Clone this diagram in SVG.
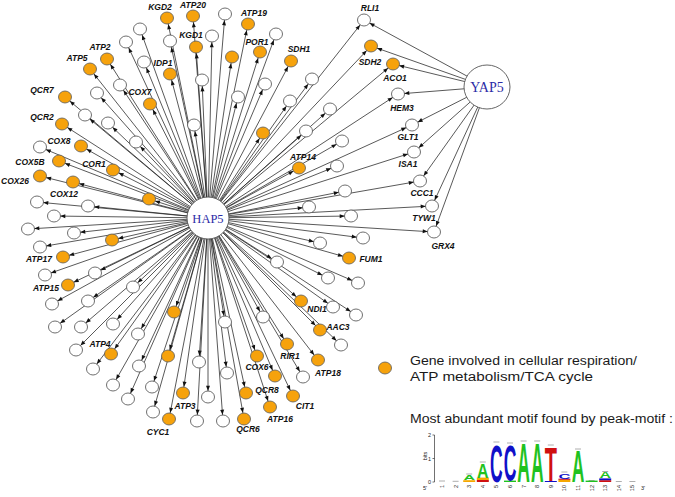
<svg xmlns="http://www.w3.org/2000/svg" width="675" height="497" viewBox="0 0 675 497">
<defs>
<marker id="ah" markerUnits="userSpaceOnUse" markerWidth="6" markerHeight="4" refX="11.3" refY="2" orient="auto" overflow="visible">
<path d="M0,0 L5,2 L0,4 z" fill="#111"/>
</marker>
</defs>
<style>
.e line{stroke:#222;stroke-width:0.75;fill:none;marker-end:url(#ah)}
.o{fill:#F6A20C;stroke:#5a5a5a;stroke-width:0.8}
.w{fill:#fff;stroke:#4a4a4a;stroke-width:0.8}
.l{font-family:"Liberation Sans",Arial,sans-serif;font-size:8.5px;font-weight:bold;font-style:italic;fill:#111;text-anchor:middle}
.hub{fill:#fff;stroke:#555;stroke-width:0.9}
.ht{font-family:"Liberation Serif","Times New Roman",serif;fill:#2b2ba6;text-anchor:middle}
.lg{font-family:"Liberation Sans",Arial,sans-serif;font-size:12.5px;fill:#1a1a1a}
.ax{font-family:"Liberation Sans",Arial,sans-serif;font-size:5.5px;fill:#222}
.lt{font-family:"Liberation Sans",Arial,sans-serif;font-weight:bold;font-size:10px;text-anchor:middle}
.A{fill:#1fc21f}.C{fill:#1010c8}.T{fill:#d01010}.G{fill:#f5a800}
.eb{stroke:#999;stroke-width:0.8}
</style>
<rect width="675" height="497" fill="#fff"/>
<g id="edges" class="e">
<line x1="208" y1="218" x2="167" y2="18"/>
<line x1="208" y1="218" x2="193" y2="16"/>
<line x1="208" y1="218" x2="225" y2="14"/>
<line x1="208" y1="218" x2="140" y2="29"/>
<line x1="208" y1="218" x2="170" y2="41"/>
<line x1="208" y1="218" x2="196" y2="47"/>
<line x1="208" y1="218" x2="212" y2="36"/>
<line x1="208" y1="218" x2="248" y2="24"/>
<line x1="208" y1="218" x2="276" y2="34"/>
<line x1="208" y1="218" x2="260" y2="52"/>
<line x1="208" y1="218" x2="232" y2="57"/>
<line x1="208" y1="218" x2="291" y2="61"/>
<line x1="208" y1="218" x2="126" y2="42"/>
<line x1="208" y1="218" x2="107" y2="59"/>
<line x1="208" y1="218" x2="144" y2="62"/>
<line x1="208" y1="218" x2="170" y2="74"/>
<line x1="208" y1="218" x2="90" y2="69"/>
<line x1="208" y1="218" x2="120" y2="85"/>
<line x1="208" y1="218" x2="202" y2="80"/>
<line x1="208" y1="218" x2="97" y2="93"/>
<line x1="208" y1="218" x2="65" y2="97"/>
<line x1="208" y1="218" x2="150" y2="104"/>
<line x1="208" y1="218" x2="85" y2="115"/>
<line x1="208" y1="218" x2="108" y2="123"/>
<line x1="208" y1="218" x2="194" y2="125"/>
<line x1="208" y1="218" x2="62" y2="124"/>
<line x1="208" y1="218" x2="136" y2="142"/>
<line x1="208" y1="218" x2="40" y2="147"/>
<line x1="208" y1="218" x2="81" y2="146"/>
<line x1="208" y1="218" x2="59" y2="161"/>
<line x1="208" y1="218" x2="113" y2="170"/>
<line x1="208" y1="218" x2="265" y2="84"/>
<line x1="208" y1="218" x2="238" y2="97"/>
<line x1="208" y1="218" x2="312" y2="79"/>
<line x1="208" y1="218" x2="290" y2="101"/>
<line x1="208" y1="218" x2="364" y2="20"/>
<line x1="208" y1="218" x2="371" y2="46"/>
<line x1="208" y1="218" x2="393" y2="64"/>
<line x1="208" y1="218" x2="398" y2="94"/>
<line x1="208" y1="218" x2="330" y2="109"/>
<line x1="208" y1="218" x2="306" y2="131"/>
<line x1="208" y1="218" x2="263" y2="133"/>
<line x1="208" y1="218" x2="412" y2="125"/>
<line x1="208" y1="218" x2="342" y2="141"/>
<line x1="208" y1="218" x2="414" y2="152"/>
<line x1="208" y1="218" x2="299" y2="168"/>
<line x1="208" y1="218" x2="337" y2="166"/>
<line x1="208" y1="218" x2="40" y2="176"/>
<line x1="208" y1="218" x2="73" y2="182"/>
<line x1="208" y1="218" x2="149" y2="199"/>
<line x1="208" y1="218" x2="37" y2="202"/>
<line x1="208" y1="218" x2="88" y2="206"/>
<line x1="208" y1="218" x2="54" y2="216"/>
<line x1="208" y1="218" x2="28" y2="229"/>
<line x1="208" y1="218" x2="74" y2="233"/>
<line x1="208" y1="218" x2="112" y2="240"/>
<line x1="208" y1="218" x2="40" y2="247"/>
<line x1="208" y1="218" x2="63" y2="257"/>
<line x1="208" y1="218" x2="95" y2="273"/>
<line x1="208" y1="218" x2="45" y2="275"/>
<line x1="208" y1="218" x2="68" y2="285"/>
<line x1="208" y1="218" x2="133" y2="287"/>
<line x1="208" y1="218" x2="88" y2="301"/>
<line x1="208" y1="218" x2="52" y2="304"/>
<line x1="208" y1="218" x2="174" y2="312"/>
<line x1="208" y1="218" x2="113" y2="324"/>
<line x1="208" y1="218" x2="81" y2="327"/>
<line x1="208" y1="218" x2="55" y2="327"/>
<line x1="208" y1="218" x2="225" y2="322"/>
<line x1="208" y1="218" x2="138" y2="334"/>
<line x1="208" y1="218" x2="76" y2="350"/>
<line x1="208" y1="218" x2="111" y2="354"/>
<line x1="208" y1="218" x2="168" y2="356"/>
<line x1="208" y1="218" x2="199" y2="362"/>
<line x1="208" y1="218" x2="139" y2="366"/>
<line x1="208" y1="218" x2="93" y2="369"/>
<line x1="208" y1="218" x2="227" y2="373"/>
<line x1="208" y1="218" x2="152" y2="387"/>
<line x1="208" y1="218" x2="113" y2="385"/>
<line x1="208" y1="218" x2="208" y2="397"/>
<line x1="208" y1="218" x2="183" y2="393"/>
<line x1="208" y1="218" x2="128" y2="399"/>
<line x1="208" y1="218" x2="153" y2="412"/>
<line x1="208" y1="218" x2="169" y2="419"/>
<line x1="208" y1="218" x2="197" y2="421"/>
<line x1="208" y1="218" x2="223" y2="421"/>
<line x1="208" y1="218" x2="257" y2="356"/>
<line x1="208" y1="218" x2="275" y2="376"/>
<line x1="208" y1="218" x2="246" y2="393"/>
<line x1="208" y1="218" x2="270" y2="407"/>
<line x1="208" y1="218" x2="244" y2="419"/>
<line x1="208" y1="218" x2="293" y2="396"/>
<line x1="208" y1="218" x2="287" y2="344"/>
<line x1="208" y1="218" x2="303" y2="377"/>
<line x1="208" y1="218" x2="318" y2="360"/>
<line x1="208" y1="218" x2="320" y2="330"/>
<line x1="208" y1="218" x2="341" y2="345"/>
<line x1="208" y1="218" x2="345" y2="191"/>
<line x1="208" y1="218" x2="420" y2="181"/>
<line x1="208" y1="218" x2="309" y2="207"/>
<line x1="208" y1="218" x2="351" y2="216"/>
<line x1="208" y1="218" x2="432" y2="206"/>
<line x1="208" y1="218" x2="434" y2="232"/>
<line x1="208" y1="218" x2="320" y2="243"/>
<line x1="208" y1="218" x2="363" y2="238"/>
<line x1="208" y1="218" x2="349" y2="258"/>
<line x1="208" y1="218" x2="277" y2="262"/>
<line x1="208" y1="218" x2="328" y2="278"/>
<line x1="208" y1="218" x2="358" y2="283"/>
<line x1="208" y1="218" x2="301" y2="301"/>
<line x1="208" y1="218" x2="333" y2="307"/>
<line x1="208" y1="218" x2="356" y2="315"/>
<line x1="208" y1="218" x2="263" y2="317"/>
<line x1="487" y1="87" x2="364" y2="20"/>
<line x1="487" y1="87" x2="371" y2="46"/>
<line x1="487" y1="87" x2="393" y2="64"/>
<line x1="487" y1="87" x2="398" y2="94"/>
<line x1="487" y1="87" x2="412" y2="125"/>
<line x1="487" y1="87" x2="414" y2="152"/>
<line x1="487" y1="87" x2="420" y2="181"/>
<line x1="487" y1="87" x2="432" y2="206"/>
<line x1="487" y1="87" x2="434" y2="232"/>
</g>
<g id="n01"><ellipse class="o" cx="167" cy="18" rx="6.5" ry="6"/><text class="l" x="160" y="10">KGD2</text></g>
<g id="n02"><ellipse class="o" cx="193" cy="16" rx="6.5" ry="6"/><text class="l" x="193" y="8">ATP20</text></g>
<g id="n03"><ellipse class="w" cx="225" cy="14" rx="6.5" ry="6"/></g>
<g id="n04"><ellipse class="w" cx="140" cy="29" rx="6.5" ry="6"/></g>
<g id="n05"><ellipse class="w" cx="170" cy="41" rx="6.5" ry="6"/></g>
<g id="n06"><ellipse class="o" cx="196" cy="47" rx="6.5" ry="6"/><text class="l" x="191" y="37.5">KGD1</text></g>
<g id="n07"><ellipse class="w" cx="212" cy="36" rx="6.5" ry="6"/></g>
<g id="n08"><ellipse class="o" cx="248" cy="24" rx="6.5" ry="6"/><text class="l" x="254" y="16">ATP19</text></g>
<g id="n09"><ellipse class="w" cx="276" cy="34" rx="6.5" ry="6"/></g>
<g id="n10"><ellipse class="o" cx="260" cy="52" rx="6.5" ry="6"/><text class="l" x="257" y="45">POR1</text></g>
<g id="n11"><ellipse class="o" cx="232" cy="57" rx="6.5" ry="6"/></g>
<g id="n12"><ellipse class="o" cx="291" cy="61" rx="6.5" ry="6"/><text class="l" x="299" y="52">SDH1</text></g>
<g id="n13"><ellipse class="w" cx="126" cy="42" rx="6.5" ry="6"/></g>
<g id="n14"><ellipse class="o" cx="107" cy="59" rx="6.5" ry="6"/><text class="l" x="100" y="50">ATP2</text></g>
<g id="n15"><ellipse class="w" cx="144" cy="62" rx="6.5" ry="6"/></g>
<g id="n16"><ellipse class="o" cx="170" cy="74" rx="6.5" ry="6"/><text class="l" x="163" y="66">IDP1</text></g>
<g id="n17"><ellipse class="o" cx="90" cy="69" rx="6.5" ry="6"/><text class="l" x="77" y="61">ATP5</text></g>
<g id="n18"><ellipse class="w" cx="120" cy="85" rx="6.5" ry="6"/></g>
<g id="n19"><ellipse class="w" cx="202" cy="80" rx="6.5" ry="6"/></g>
<g id="n20"><ellipse class="w" cx="97" cy="93" rx="6.5" ry="6"/></g>
<g id="n21"><ellipse class="o" cx="65" cy="97" rx="6.5" ry="6"/><text class="l" x="42" y="93">QCR7</text></g>
<g id="n22"><ellipse class="o" cx="150" cy="104" rx="6.5" ry="6"/><text class="l" x="140" y="95">COX7</text></g>
<g id="n23"><ellipse class="w" cx="85" cy="115" rx="6.5" ry="6"/></g>
<g id="n24"><ellipse class="w" cx="108" cy="123" rx="6.5" ry="6"/></g>
<g id="n25"><ellipse class="w" cx="194" cy="125" rx="6.5" ry="6"/></g>
<g id="n26"><ellipse class="o" cx="62" cy="124" rx="6.5" ry="6"/><text class="l" x="42" y="120">QCR2</text></g>
<g id="n27"><ellipse class="w" cx="136" cy="142" rx="6.5" ry="6"/></g>
<g id="n28"><ellipse class="w" cx="40" cy="147" rx="6.5" ry="6"/></g>
<g id="n29"><ellipse class="o" cx="81" cy="146" rx="6.5" ry="6"/><text class="l" x="59" y="144">COX8</text></g>
<g id="n30"><ellipse class="o" cx="59" cy="161" rx="6.5" ry="6"/><text class="l" x="30" y="165">COX5B</text></g>
<g id="n31"><ellipse class="o" cx="113" cy="170" rx="6.5" ry="6"/><text class="l" x="94" y="167">COR1</text></g>
<g id="n32"><ellipse class="w" cx="265" cy="84" rx="6.5" ry="6"/></g>
<g id="n33"><ellipse class="w" cx="238" cy="97" rx="6.5" ry="6"/></g>
<g id="n34"><ellipse class="w" cx="312" cy="79" rx="6.5" ry="6"/></g>
<g id="n35"><ellipse class="w" cx="290" cy="101" rx="6.5" ry="6"/></g>
<g id="n36"><ellipse class="w" cx="364" cy="20" rx="6.5" ry="6"/><text class="l" x="370" y="11">RLI1</text></g>
<g id="n37"><ellipse class="o" cx="371" cy="46" rx="6.5" ry="6"/><text class="l" x="370" y="65">SDH2</text></g>
<g id="n38"><ellipse class="o" cx="393" cy="64" rx="6.5" ry="6"/><text class="l" x="395" y="81">ACO1</text></g>
<g id="n39"><ellipse class="w" cx="398" cy="94" rx="6.5" ry="6"/><text class="l" x="402" y="111">HEM3</text></g>
<g id="n40"><ellipse class="w" cx="330" cy="109" rx="6.5" ry="6"/></g>
<g id="n41"><ellipse class="w" cx="306" cy="131" rx="6.5" ry="6"/></g>
<g id="n42"><ellipse class="o" cx="263" cy="133" rx="6.5" ry="6"/></g>
<g id="n43"><ellipse class="w" cx="412" cy="125" rx="6.5" ry="6"/><text class="l" x="408" y="140">GLT1</text></g>
<g id="n44"><ellipse class="w" cx="342" cy="141" rx="6.5" ry="6"/></g>
<g id="n45"><ellipse class="w" cx="414" cy="152" rx="6.5" ry="6"/><text class="l" x="408" y="167">ISA1</text></g>
<g id="n46"><ellipse class="o" cx="299" cy="168" rx="6.5" ry="6"/><text class="l" x="303" y="160">ATP14</text></g>
<g id="n47"><ellipse class="w" cx="337" cy="166" rx="6.5" ry="6"/></g>
<g id="n48"><ellipse class="o" cx="40" cy="176" rx="6.5" ry="6"/><text class="l" x="15" y="184">COX26</text></g>
<g id="n49"><ellipse class="o" cx="73" cy="182" rx="6.5" ry="6"/><text class="l" x="64" y="197">COX12</text></g>
<g id="n50"><ellipse class="o" cx="149" cy="199" rx="6.5" ry="6"/></g>
<g id="n52"><ellipse class="w" cx="37" cy="202" rx="6.5" ry="6"/></g>
<g id="n53"><ellipse class="w" cx="88" cy="206" rx="6.5" ry="6"/></g>
<g id="n54"><ellipse class="w" cx="54" cy="216" rx="6.5" ry="6"/></g>
<g id="n55"><ellipse class="w" cx="28" cy="229" rx="6.5" ry="6"/></g>
<g id="n56"><ellipse class="w" cx="74" cy="233" rx="6.5" ry="6"/></g>
<g id="n57"><ellipse class="o" cx="112" cy="240" rx="6.5" ry="6"/></g>
<g id="n58"><ellipse class="w" cx="40" cy="247" rx="6.5" ry="6"/></g>
<g id="n59"><ellipse class="o" cx="63" cy="257" rx="6.5" ry="6"/><text class="l" x="39" y="262">ATP17</text></g>
<g id="n60"><ellipse class="w" cx="95" cy="273" rx="6.5" ry="6"/></g>
<g id="n61"><ellipse class="w" cx="45" cy="275" rx="6.5" ry="6"/></g>
<g id="n62"><ellipse class="o" cx="68" cy="285" rx="6.5" ry="6"/><text class="l" x="46" y="291">ATP15</text></g>
<g id="n63"><ellipse class="w" cx="133" cy="287" rx="6.5" ry="6"/></g>
<g id="n64"><ellipse class="w" cx="88" cy="301" rx="6.5" ry="6"/></g>
<g id="n65"><ellipse class="w" cx="52" cy="304" rx="6.5" ry="6"/></g>
<g id="n66"><ellipse class="o" cx="174" cy="312" rx="6.5" ry="6"/></g>
<g id="n67"><ellipse class="w" cx="113" cy="324" rx="6.5" ry="6"/></g>
<g id="n68"><ellipse class="w" cx="81" cy="327" rx="6.5" ry="6"/></g>
<g id="n69"><ellipse class="w" cx="55" cy="327" rx="6.5" ry="6"/></g>
<g id="n70"><ellipse class="w" cx="225" cy="322" rx="6.5" ry="6"/></g>
<g id="n71"><ellipse class="w" cx="138" cy="334" rx="6.5" ry="6"/></g>
<g id="n72"><ellipse class="w" cx="76" cy="350" rx="6.5" ry="6"/></g>
<g id="n73"><ellipse class="o" cx="111" cy="354" rx="6.5" ry="6"/><text class="l" x="100" y="347">ATP4</text></g>
<g id="n74"><ellipse class="o" cx="168" cy="356" rx="6.5" ry="6"/></g>
<g id="n75"><ellipse class="w" cx="199" cy="362" rx="6.5" ry="6"/></g>
<g id="n76"><ellipse class="w" cx="139" cy="366" rx="6.5" ry="6"/></g>
<g id="n77"><ellipse class="w" cx="93" cy="369" rx="6.5" ry="6"/></g>
<g id="n78"><ellipse class="w" cx="227" cy="373" rx="6.5" ry="6"/></g>
<g id="n79"><ellipse class="w" cx="152" cy="387" rx="6.5" ry="6"/></g>
<g id="n80"><ellipse class="w" cx="113" cy="385" rx="6.5" ry="6"/></g>
<g id="n81"><ellipse class="w" cx="208" cy="397" rx="6.5" ry="6"/></g>
<g id="n82"><ellipse class="o" cx="183" cy="393" rx="6.5" ry="6"/><text class="l" x="185" y="409">ATP3</text></g>
<g id="n83"><ellipse class="w" cx="128" cy="399" rx="6.5" ry="6"/></g>
<g id="n84"><ellipse class="w" cx="153" cy="412" rx="6.5" ry="6"/></g>
<g id="n85"><ellipse class="o" cx="169" cy="419" rx="6.5" ry="6"/><text class="l" x="158" y="435">CYC1</text></g>
<g id="n86"><ellipse class="w" cx="197" cy="421" rx="6.5" ry="6"/></g>
<g id="n87"><ellipse class="w" cx="223" cy="421" rx="6.5" ry="6"/></g>
<g id="n88"><ellipse class="o" cx="257" cy="356" rx="6.5" ry="6"/><text class="l" x="257" y="370">COX6</text></g>
<g id="n89"><ellipse class="o" cx="275" cy="376" rx="6.5" ry="6"/></g>
<g id="n90"><ellipse class="o" cx="246" cy="393" rx="6.5" ry="6"/><text class="l" x="267" y="393">QCR8</text></g>
<g id="n91"><ellipse class="o" cx="270" cy="407" rx="6.5" ry="6"/><text class="l" x="280" y="422">ATP16</text></g>
<g id="n92"><ellipse class="o" cx="244" cy="419" rx="6.5" ry="6"/><text class="l" x="248" y="432">QCR6</text></g>
<g id="n93"><ellipse class="o" cx="293" cy="396" rx="6.5" ry="6"/><text class="l" x="305" y="409">CIT1</text></g>
<g id="n94"><ellipse class="o" cx="287" cy="344" rx="6.5" ry="6"/><text class="l" x="290" y="359">RIR1</text></g>
<g id="n95"><ellipse class="w" cx="303" cy="377" rx="6.5" ry="6"/></g>
<g id="n96"><ellipse class="o" cx="318" cy="360" rx="6.5" ry="6"/><text class="l" x="328" y="376">ATP18</text></g>
<g id="n97"><ellipse class="o" cx="320" cy="330" rx="6.5" ry="6"/><text class="l" x="338" y="330">AAC3</text></g>
<g id="n98"><ellipse class="w" cx="341" cy="345" rx="6.5" ry="6"/></g>
<g id="n99"><ellipse class="w" cx="345" cy="191" rx="6.5" ry="6"/></g>
<g id="n100"><ellipse class="w" cx="420" cy="181" rx="6.5" ry="6"/><text class="l" x="422" y="196">CCC1</text></g>
<g id="n101"><ellipse class="w" cx="309" cy="207" rx="6.5" ry="6"/></g>
<g id="n102"><ellipse class="w" cx="351" cy="216" rx="6.5" ry="6"/></g>
<g id="n103"><ellipse class="w" cx="432" cy="206" rx="6.5" ry="6"/><text class="l" x="424" y="221">TYW1</text></g>
<g id="n104"><ellipse class="w" cx="434" cy="232" rx="6.5" ry="6"/><text class="l" x="443" y="249">GRX4</text></g>
<g id="n105"><ellipse class="w" cx="320" cy="243" rx="6.5" ry="6"/></g>
<g id="n106"><ellipse class="w" cx="363" cy="238" rx="6.5" ry="6"/></g>
<g id="n107"><ellipse class="o" cx="349" cy="258" rx="6.5" ry="6"/><text class="l" x="371" y="262">FUM1</text></g>
<g id="n108"><ellipse class="w" cx="277" cy="262" rx="6.5" ry="6"/></g>
<g id="n109"><ellipse class="w" cx="328" cy="278" rx="6.5" ry="6"/></g>
<g id="n110"><ellipse class="w" cx="358" cy="283" rx="6.5" ry="6"/></g>
<g id="n111"><ellipse class="o" cx="301" cy="301" rx="6.5" ry="6"/><text class="l" x="317" y="312">NDI1</text></g>
<g id="n112"><ellipse class="w" cx="333" cy="307" rx="6.5" ry="6"/></g>
<g id="n113"><ellipse class="w" cx="356" cy="315" rx="6.5" ry="6"/></g>
<g id="n114"><ellipse class="w" cx="263" cy="317" rx="6.5" ry="6"/></g>
<g id="HAP5"><circle class="hub" cx="208" cy="218" r="21"/><text class="ht" x="208" y="222.5" font-size="12.5">HAP5</text></g>
<g id="YAP5"><ellipse class="hub" cx="487" cy="87" rx="23" ry="22"/><text class="ht" x="487" y="92" font-size="14">YAP5</text></g>
<g id="legend">
<ellipse class="o" cx="385" cy="368" rx="6.5" ry="6"/>
<text class="lg" x="410" y="365" textLength="227" lengthAdjust="spacingAndGlyphs">Gene involved in cellular respiration/</text>
<text class="lg" x="410" y="381" textLength="183" lengthAdjust="spacingAndGlyphs">ATP metabolism/TCA cycle</text>
<text class="lg" x="410" y="423" textLength="263" lengthAdjust="spacingAndGlyphs">Most abundant motif found by peak-motif :</text>
</g>
<g id="motif">
<line x1="434.5" y1="435" x2="434.5" y2="482" stroke="#333" stroke-width="0.7"/>
<line x1="432.5" y1="435" x2="434.5" y2="435" stroke="#333" stroke-width="0.7"/>
<line x1="432.5" y1="458.5" x2="434.5" y2="458.5" stroke="#333" stroke-width="0.7"/>
<line x1="432.5" y1="482" x2="434.5" y2="482" stroke="#333" stroke-width="0.7"/>
<text class="ax" x="431" y="437" text-anchor="end">2</text>
<text class="ax" x="431" y="460.5" text-anchor="end">1</text>
<text class="ax" x="431" y="484" text-anchor="end">0</text>
<text class="ax" transform="translate(427,456) rotate(-90)" text-anchor="middle">bits</text>
<text class="ax" x="423" y="490">5'</text>
<text class="ax" x="641" y="490">3'</text>
<g class="ax" text-anchor="end">
<text transform="translate(444,485) rotate(-90)">1</text>
<text transform="translate(457.6,485) rotate(-90)">2</text>
<text transform="translate(471.2,485) rotate(-90)">3</text>
<text transform="translate(484.8,485) rotate(-90)">4</text>
<text transform="translate(498.4,485) rotate(-90)">5</text>
<text transform="translate(512,485) rotate(-90)">6</text>
<text transform="translate(525.6,485) rotate(-90)">7</text>
<text transform="translate(539.2,485) rotate(-90)">8</text>
<text transform="translate(552.8,485) rotate(-90)">9</text>
<text transform="translate(566.4,485) rotate(-90)">10</text>
<text transform="translate(580,485) rotate(-90)">11</text>
<text transform="translate(593.6,485) rotate(-90)">12</text>
<text transform="translate(607.2,485) rotate(-90)">13</text>
<text transform="translate(620.8,485) rotate(-90)">14</text>
<text transform="translate(634.4,485) rotate(-90)">15</text>
</g>
<line class="eb" x1="439" y1="481" x2="445" y2="481"/>
<line class="eb" x1="452.6" y1="481.3" x2="458.6" y2="481.3"/>
<line class="eb" x1="466.2" y1="474" x2="472.2" y2="474"/>
<line class="eb" x1="479.8" y1="462" x2="485.8" y2="462"/>
<line class="eb" x1="493.4" y1="442" x2="499.4" y2="442"/>
<line class="eb" x1="507" y1="443" x2="513" y2="443"/>
<line class="eb" x1="520.6" y1="441" x2="526.6" y2="441"/>
<line class="eb" x1="534.2" y1="441" x2="540.2" y2="441"/>
<line class="eb" x1="547.8" y1="445" x2="553.8" y2="445"/>
<line class="eb" x1="561.4" y1="472" x2="567.4" y2="472"/>
<line class="eb" x1="575" y1="449" x2="581" y2="449"/>
<line class="eb" x1="588.6" y1="480.5" x2="594.6" y2="480.5"/>
<line class="eb" x1="602.2" y1="471.5" x2="608.2" y2="471.5"/>
<line class="eb" x1="615.8" y1="481.5" x2="621.8" y2="481.5"/>
<line class="eb" x1="629.4" y1="481.5" x2="635.4" y2="481.5"/>
<rect class="G" x="463.2" y="480.2" width="12" height="1.8"/>
<text class="lt A" transform="translate(469.2,480.2) scale(1.6,0.75)">A</text>
<rect class="T" x="476.8" y="480" width="12" height="2"/>
<rect class="G" x="476.8" y="477.6" width="12" height="2.4"/>
<text class="lt A" transform="translate(482.8,477.6) scale(1.6,2.0)">A</text>
<text class="lt C" transform="translate(496.4,481.5) scale(1.75,5.25)">C</text>
<rect class="A" x="504" y="480.6" width="12" height="1.4"/>
<text class="lt C" transform="translate(510,480.6) scale(1.75,4.95)">C</text>
<text class="lt A" transform="translate(523.6,482) scale(1.75,5.55)">A</text>
<text class="lt A" transform="translate(537.2,482) scale(1.75,5.55)">A</text>
<rect class="C" x="544.8" y="481" width="12" height="1"/>
<text class="lt T" transform="translate(550.8,481) scale(2.0,4.85)">T</text>
<rect class="G" x="558.4" y="479.8" width="12" height="2.2"/>
<rect class="T" x="558.4" y="478.7" width="12" height="1.1"/>
<text class="lt C" transform="translate(564.4,478.7) scale(1.65,0.75)">C</text>
<text class="lt A" transform="translate(578,482) scale(1.75,4.45)">A</text>
<rect class="A" x="585.6" y="480.6" width="12" height="1.4"/>
<rect class="T" x="599.2" y="480.2" width="12" height="1.8"/>
<rect class="C" x="599.2" y="478.4" width="12" height="1.8"/>
<text class="lt A" transform="translate(605.2,478.4) scale(1.6,0.85)">A</text>
</g>
</svg>
